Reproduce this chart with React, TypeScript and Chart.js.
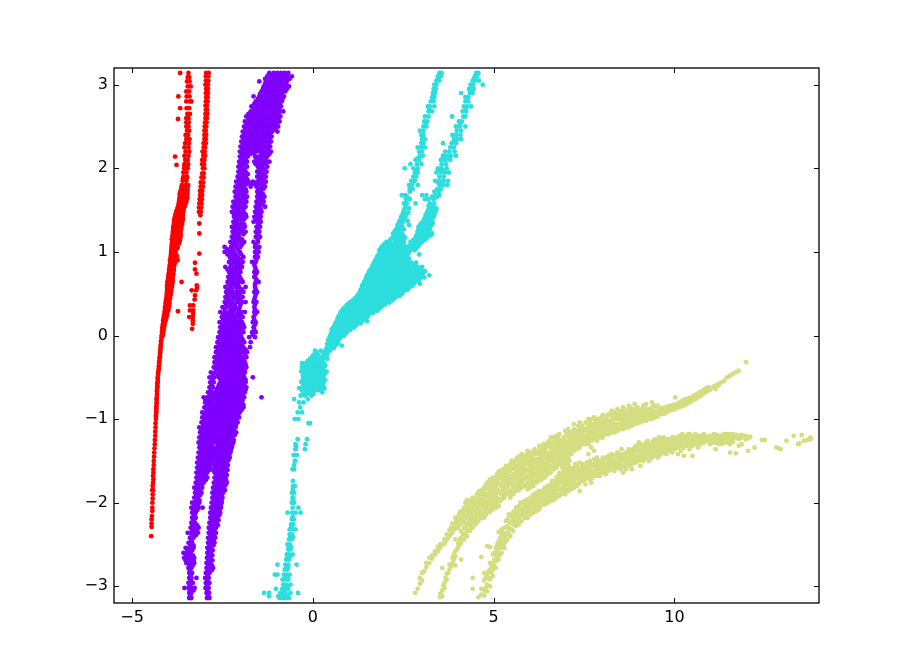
import React, { useEffect, useRef } from "react";
import { Chart, registerables } from "chart.js";

Chart.register(...registerables);

const xTickValues = [-5, 0, 5, 10];
const yTickValues = [-3, -2, -1, 0, 1, 2, 3];

// Rows: [y, x, x, ...]
const redRows = [
[-2.4,-4.47],[-2.29,-4.46],[-2.25,-4.46],[-2.2,-4.46],[-2.16,-4.45],[-2.1,-4.44],[-2.06,-4.44],[-2.0,-4.44],[-1.95,-4.43],[-1.9,-4.43],[-1.85,-4.44,-4.42],[-1.8,-4.43],[-1.76,-4.42],[-1.72,-4.41],[-1.68,-4.42],[-1.64,-4.41],[-1.6,-4.41],[-1.55,-4.4],[-1.5,-4.4],[-1.45,-4.39],[-1.4,-4.39],[-1.35,-4.38],
[-1.3,-4.37],[-1.25,-4.37],[-1.2,-4.36],[-1.15,-4.36],[-1.1,-4.35],[-1.05,-4.35],[-1.0,-4.34],[-0.97,-4.34],[-0.95,-4.34],[-0.92,-4.33],[-0.9,-4.33],[-0.87,-4.33],[-0.85,-4.33],[-0.82,-4.32],[-0.8,-4.32],[-0.77,-4.32],[-0.75,-4.32],[-0.72,-4.31],[-0.7,-4.31],[-0.67,-4.31],[-0.65,-4.31],[-0.62,-4.3],[-0.6,-4.3],[-0.57,-4.3],[-0.55,-4.29],[-0.52,-4.29],[-0.5,-4.29],[-0.47,-4.28],[-0.45,-4.28],[-0.42,-4.27],[-0.4,-4.26],[-0.37,-4.26],[-0.35,-4.25],[-0.32,-4.25],[-0.3,-4.24],[-0.27,-4.24],[-0.25,-4.23],[-0.22,-4.23],[-0.2,-4.22],[-0.17,-4.22],[-0.15,-4.21],[-0.12,-4.21],[-0.1,-4.2],[-0.07,-4.2],[-0.05,-4.19],[-0.02,-4.18],[0,-4.18,-4.15],
[0.03,-4.17,-4.14],[0.05,-4.17,-4.14],[0.08,-4.16,-4.12],[0.1,-4.16,-4.12],[0.13,-4.15,-4.1],[0.15,-4.14,-4.1],[0.18,-4.14,-4.07],[0.2,-4.13,-4.06],[0.23,-4.12,-4.04],[0.25,-4.11,-4.03],[0.28,-4.1,-4.02],[0.3,-4.09,-4.0],[0.33,-4.09,-3.99],[0.35,-4.08,-3.98],[0.38,-4.07,-4.0,-3.97],[0.4,-4.07,-3.97],[0.43,-4.06,-3.98,-3.96],[0.45,-4.05,-3.95],[0.48,-4.04,-3.96,-3.94],[0.5,-4.04,-3.93],[0.53,-4.03,-3.94,-3.92],[0.55,-4.03,-3.92],[0.58,-4.03,-3.94,-3.9],[0.6,-4.03,-3.9],[0.63,-4.02,-3.94,-3.88],[0.65,-4.02,-3.88],[0.68,-4.0,-3.94,-3.88],[0.7,-4.0,-3.88],[0.73,-3.99,-3.92,-3.86],[0.75,-3.98,-3.86],[0.78,-3.97,-3.9,-3.85],[0.8,-3.97,-3.85],[0.83,-3.96,-3.88,-3.84],[0.85,-3.95,-3.83],[0.88,-3.94,-3.88,-3.8],[0.9,-3.95,-3.83,-3.74],[0.93,-3.93,-3.86,-3.79],[0.95,-3.93,-3.81,-3.76],[0.98,-3.92,-3.86,-3.8],[1.0,-3.92,-3.8],[1.03,-3.91,-3.85,-3.78],[1.05,-3.91,-3.8,-3.74],[1.08,-3.9,-3.84,-3.76],[1.1,-3.9,-3.8,-3.7],[1.13,-3.89,-3.84,-3.74,-3.68],[1.15,-3.9,-3.78,-3.68],[1.18,-3.88,-3.82,-3.72,-3.66],[1.2,-3.88,-3.78,-3.66],[1.23,-3.87,-3.81,-3.71,-3.66],[1.25,-3.87,-3.76,-3.66],[1.28,-3.86,-3.8,-3.7,-3.64],[1.3,-3.86,-3.74,-3.64],[1.33,-3.84,-3.78,-3.68,-3.62],[1.35,-3.84,-3.73,-3.62],[1.38,-3.83,-3.77,-3.66,-3.6],[1.4,-3.83,-3.72,-3.6],[1.43,-3.8,-3.74,-3.64,-3.6],[1.45,-3.8,-3.7,-3.6],[1.48,-3.78,-3.7,-3.62,-3.58],[1.5,-3.76,-3.66,-3.58],[1.53,-3.74,-3.66,-3.56],[1.55,-3.72,-3.62,-3.54],[1.58,-3.71,-3.64,-3.52],[1.6,-3.7,-3.6,-3.5],[1.63,-3.69,-3.62,-3.49],[1.65,-3.68,-3.58,-3.47],[1.68,-3.68,-3.6,-3.48],[1.7,-3.68,-3.56,-3.47],[1.73,-3.66,-3.58,-3.47],[1.75,-3.64,-3.54,-3.47],[1.78,-3.63,-3.56,-3.46],[1.8,-3.62,-3.52,-3.45],[1.85,-3.6,-3.5],[1.88,-3.59,-3.49],[1.9,-3.58,-3.48],[1.95,-3.58,-3.5],[2.0,-3.56,-3.46],[2.03,-3.55,-3.47],[2.05,-3.55,-3.45],[2.1,-3.53,-3.46],[2.14,-3.81],[2.04,-3.77],[2.15,-3.55,-3.44],[2.2,-3.52,-3.42],[2.25,-3.55,-3.44],[2.3,-3.53,-3.43],[2.35,-3.5,-3.41],[2.4,-3.52,-3.45],[2.45,-3.48,-3.42],[2.5,-3.5,-3.44],[2.55,-3.5,-3.43],[2.6,-3.5,-3.44],[2.59,-3.73],[2.65,-3.47,-3.4],[2.72,-3.67,-3.49,-3.42],[2.8,-3.5,-3.4,-3.36],[2.86,-3.72,-3.49,-3.41],[2.92,-3.5,-3.42],[2.98,-3.46,-3.38],[3.04,-3.48,-3.41],[3.09,-3.46,-3.42],[3.14,-3.67,-3.44],
[1.53,-3.15,-3.09],[1.58,-3.14,-3.08],[1.63,-3.13,-3.07],[1.68,-3.12,-3.06],[1.73,-3.12,-3.06],[1.78,-3.1,-3.04],[1.83,-3.1,-3.03],[1.89,-3.08,-3.02],[1.94,-3.06,-3.02],[2.0,-3.04,-3.0],[2.05,-3.06,-3.01],[2.1,-3.06,-3.0],[2.15,-3.03,-2.98],[2.2,-3.05,-2.99],[2.25,-3.02,-2.98],[2.3,-3.02,-2.96],[2.35,-3.0,-2.96],[2.4,-3.0,-2.95],[2.45,-3.0,-2.96],[2.5,-2.99,-2.95],[2.55,-2.98,-2.94],[2.6,-2.97,-2.93],[2.65,-2.97,-2.92],[2.7,-2.96,-2.92],[2.75,-2.97,-2.93],[2.8,-2.96,-2.91],[2.85,-2.95,-2.91],[2.9,-2.96,-2.9],[2.95,-2.95,-2.9],[3.0,-2.97,-2.9],[3.05,-2.96,-2.89],[3.1,-2.96,-2.89],[3.14,-2.95,-2.88],
[1.48,-3.15,-3.1],[1.44,-3.11],[1.34,-3.14],[1.22,-3.14],[0.98,-3.14],[0.87,-3.26],[0.79,-3.26],[0.74,-3.22],[0.6,-3.21],[0.57,-3.2],[0.54,-3.23,-3.35],[0.48,-3.26],[0.43,-3.27],[0.36,-3.4,-3.31],[0.3,-3.4,-3.31],[0.26,-3.31],[0.22,-3.42,-3.32],[0.18,-3.32],[0.14,-3.32],[0.08,-3.34],[0.64,-3.63],[0.29,-3.73]
];

const purpleRows = [
[-3.14,-3.42,-3.36,-2.93,-2.86],[-3.08,-3.42,-3.36,-2.94,-2.87],[-3.02,-3.55,-3.44,-3.34,-3.27,-2.97,-2.88],[-2.96,-3.44,-3.32,-2.96,-2.86],[-2.9,-3.42,-3.36,-3.22,-2.98,-2.88],[-2.84,-3.42,-3.34,-2.96,-2.86],[-2.78,-3.44,-3.36,-2.94,-2.84,-2.76],[-2.72,-3.5,-3.4,-3.28,-2.94,-2.84],[-2.66,-3.56,-3.46,-3.36,-3.28,-2.93,-2.83],[-2.6,-3.58,-3.48,-3.38,-2.92,-2.82],[-2.54,-3.52,-3.42,-3.3,-2.92,-2.82],[-2.48,-3.44,-3.34,-2.9,-2.8,-2.72],[-2.42,-3.4,-3.3,-2.9,-2.8,-2.7],[-2.36,-3.46,-3.38,-3.26,-3.18,-2.88,-2.78,-2.68],[-2.3,-3.38,-3.28,-3.16,-2.88,-2.78,-2.68],[-2.24,-3.36,-3.26,-2.86,-2.76,-2.66],[-2.18,-3.34,-3.24,-2.84,-2.74,-2.64],[-2.12,-3.34,-3.24,-2.84,-2.74,-2.64,-2.56],[-2.06,-3.36,-3.26,-3.16,-3.05,-2.82,-2.72,-2.62,-2.54],[-2.0,-3.34,-3.22,-3.14,-2.8,-2.7,-2.6,-2.52],[-1.94,-3.28,-3.18,-2.78,-2.68,-2.58,-2.5],[-1.88,-3.26,-3.16,-3.08,-2.78,-2.68,-2.58,-2.48],[-1.82,-3.28,-3.18,-3.06,-2.76,-2.66,-2.56,-2.46],[-1.76,-3.24,-3.14,-3.02,-2.74,-2.64,-2.54,-2.44,-2.38],[-1.7,-3.22,-3.12,-3.0,-2.92,-2.72,-2.62,-2.52,-2.42],[-1.64,-3.22,-3.12,-3.02,-2.92,-2.72,-2.62,-2.52,-2.42],[-1.58,-3.2,-3.1,-3.0,-2.9,-2.84,-2.7,-2.6,-2.5,-2.4],[-1.52,-3.2,-3.1,-3.0,-2.9,-2.82,-2.68,-2.58,-2.48,-2.38],[-1.46,-3.18,-3.08,-2.98,-2.88,-2.78,-2.68,-2.58,-2.48,-2.38,-2.3],[-1.4,-3.16,-3.06,-2.96,-2.86,-2.76,-2.66,-2.56,-2.46,-2.36,-2.28],[-1.34,-3.14,-3.04,-2.94,-2.84,-2.74,-2.62,-2.52,-2.42,-2.32,-2.24],[-1.28,-3.16,-3.06,-2.96,-2.86,-2.76,-2.68,-2.58,-2.48,-2.38,-2.28,-2.2],[-1.22,-3.14,-3.04,-2.94,-2.84,-2.74,-2.64,-2.54,-2.44,-2.34,-2.24],[-1.16,-3.12,-3.02,-2.92,-2.82,-2.72,-2.6,-2.5,-2.4,-2.3,-2.2,-2.12],[-1.1,-3.14,-3.04,-2.94,-2.84,-2.74,-2.64,-2.54,-2.44,-2.34,-2.24,-2.14],[-1.04,-3.08,-2.98,-2.88,-2.78,-2.68,-2.58,-2.48,-2.38,-2.28,-2.18,-2.08],[-0.98,-3.06,-2.96,-2.86,-2.76,-2.66,-2.56,-2.46,-2.36,-2.26,-2.16,-2.04],[-0.92,-3.06,-2.94,-2.84,-2.74,-2.64,-2.54,-2.44,-2.34,-2.24,-2.14,-2.02],[-0.86,-3.0,-2.9,-2.8,-2.7,-2.6,-2.5,-2.4,-2.3,-2.2,-2.1,-2.0,-1.92],[-0.8,-2.98,-2.88,-2.78,-2.66,-2.56,-2.46,-2.36,-2.26,-2.16,-2.06,-1.96],[-0.74,-3.02,-2.92,-2.8,-2.7,-2.6,-2.5,-2.4,-2.3,-2.2,-2.1,-2.0,-1.9,-1.42],[-0.68,-2.9,-2.8,-2.7,-2.58,-2.48,-2.38,-2.28,-2.18,-2.08,-1.98,-1.88],[-0.62,-2.86,-2.76,-2.62,-2.52,-2.42,-2.32,-2.22,-2.12,-2.02,-1.92,-1.84],[-0.56,-2.84,-2.74,-2.56,-2.46,-2.36,-2.26,-2.16,-2.06,-1.96,-1.86],[-0.5,-2.86,-2.72,-2.6,-2.5,-2.4,-2.3,-2.2,-2.1,-2.0,-1.9,-1.66],[-0.44,-2.82,-2.7,-2.56,-2.46,-2.36,-2.26,-2.16,-2.06,-1.96,-1.88],[-0.38,-2.74,-2.64,-2.54,-2.44,-2.34,-2.24,-2.14,-2.04,-1.94,-1.84],[-0.32,-2.72,-2.62,-2.5,-2.4,-2.3,-2.2,-2.1,-2.0,-1.88],[-0.26,-2.72,-2.6,-2.5,-2.38,-2.28,-2.18,-2.08,-1.98,-1.84],[-0.2,-2.68,-2.58,-2.46,-2.36,-2.26,-2.16,-2.06,-1.94,-1.82],[-0.14,-2.68,-2.56,-2.46,-2.34,-2.24,-2.14,-2.02,-1.92,-1.74],[-0.08,-2.64,-2.54,-2.44,-2.32,-2.22,-2.12,-2.02,-1.9,-1.72],[-0.02,-2.62,-2.52,-2.4,-2.3,-2.2,-2.08,-1.98,-1.76,-1.6],
[0.04,-2.58,-2.48,-2.36,-2.26,-2.14,-2.04,-1.92,-1.68,-1.58],[0.1,-2.56,-2.46,-2.34,-2.22,-2.12,-2.0,-1.9,-1.64],[0.16,-2.58,-2.44,-2.32,-2.2,-2.08,-1.96,-1.66,-1.58],[0.22,-2.52,-2.42,-2.3,-2.18,-2.06,-1.94,-1.64],[0.28,-2.56,-2.44,-2.32,-2.22,-2.08,-1.98,-1.88,-1.62,-1.54],[0.34,-2.5,-2.38,-2.26,-2.14,-2.02,-1.62],[0.4,-2.44,-2.34,-2.22,-2.08,-1.96,-1.86,-1.64,-1.56],[0.46,-2.42,-2.32,-2.18,-2.06,-1.94,-1.6],[0.52,-2.4,-2.3,-2.2,-2.1,-2.0,-1.92,-1.62,-1.54],[0.58,-2.42,-2.28,-2.14,-2.04,-1.86,-1.6],[0.64,-2.36,-2.26,-2.16,-2.02,-1.94,-1.58,-1.5],[0.7,-2.34,-2.24,-2.14,-2.02,-1.62],[0.76,-2.32,-2.22,-2.1,-2.0,-1.62,-1.54],[0.82,-2.42,-2.28,-2.18,-2.06,-1.96,-1.6],[0.88,-2.32,-2.18,-2.08,-1.94,-1.68,-1.58],[0.94,-2.3,-2.2,-2.08,-1.92,-1.6,-1.52],[1.0,-2.44,-2.3,-2.18,-2.02,-1.6,-1.5],[1.06,-2.44,-2.26,-2.14,-2.0,-1.6,-1.48],[1.12,-2.28,-2.16,-2.02,-1.9,-1.64,-1.52],[1.18,-2.24,-2.14,-2.04,-1.58,-1.46],[1.24,-2.22,-2.12,-1.98,-1.86,-1.58,-1.48],[1.3,-2.24,-2.12,-2.0,-1.88,-1.56,-1.46],[1.36,-2.2,-2.1,-1.96,-1.64,-1.54,-1.44],[1.42,-2.18,-2.08,-1.96,-1.84,-1.62,-1.52,-1.44],[1.48,-2.24,-2.14,-2.04,-1.92,-1.6,-1.5,-1.42],[1.54,-2.22,-2.12,-2.0,-1.86,-1.58,-1.48,-1.32],[1.6,-2.2,-2.1,-1.98,-1.84,-1.56,-1.46,-1.36],[1.66,-2.14,-2.06,-1.92,-1.82,-1.54,-1.44,-1.34],[1.72,-2.16,-2.04,-1.94,-1.84,-1.54,-1.44],[1.78,-2.14,-2.02,-1.9,-1.72,-1.56,-1.42,-1.32],[1.84,-2.12,-2.02,-1.9,-1.78,-1.66,-1.54,-1.42,-1.3],[1.9,-2.08,-1.98,-1.86,-1.54,-1.42,-1.3],[1.96,-2.06,-1.96,-1.86,-1.54,-1.42,-1.28],[2.02,-2.06,-1.96,-1.82,-1.52,-1.4,-1.26],[2.08,-2.04,-1.94,-1.82,-1.62,-1.52,-1.38,-1.26,-1.2],[2.14,-2.02,-1.92,-1.8,-1.6,-1.5,-1.38,-1.26],[2.2,-2.02,-1.9,-1.8,-1.68,-1.56,-1.46,-1.36,-1.24,-1.16],[2.26,-2.0,-1.9,-1.78,-1.66,-1.54,-1.42,-1.3,-1.18],[2.32,-1.98,-1.88,-1.76,-1.64,-1.52,-1.4,-1.28,-1.16],[2.38,-1.96,-1.86,-1.74,-1.62,-1.5,-1.38,-1.26,-1.14],[2.44,-1.94,-1.84,-1.72,-1.6,-1.48,-1.36,-1.24,-1.12,-0.98],[2.5,-1.9,-1.78,-1.66,-1.54,-1.42,-1.3,-1.18,-1.06,-0.96],[2.56,-1.88,-1.76,-1.64,-1.52,-1.4,-1.28,-1.16,-1.04,-0.92],[2.62,-1.84,-1.72,-1.6,-1.48,-1.36,-1.24,-1.12,-1.0,-0.9],[2.68,-1.72,-1.6,-1.5,-1.38,-1.26,-1.14,-1.02,-0.9,-0.82],[2.74,-1.7,-1.58,-1.46,-1.34,-1.22,-1.1,-1.0,-0.88],[2.8,-1.58,-1.46,-1.34,-1.22,-1.1,-0.98,-0.86],[2.86,-1.64,-1.48,-1.38,-1.26,-1.14,-1.02,-0.9,-0.8],[2.92,-1.42,-1.32,-1.2,-1.08,-0.96,-0.84,-0.76],[2.98,-1.36,-1.26,-1.14,-1.02,-0.9,-0.78,-0.66],[3.04,-1.48,-1.3,-1.18,-1.06,-0.94,-0.84,-0.72],[3.1,-1.26,-1.14,-1.02,-0.92,-0.82,-0.7,-0.58],[3.14,-1.2,-1.08,-0.98,-0.88,-0.78,-0.68]
];

const purpleRowsFill = [
[-3.11,-3.39,-2.9],[-3.05,-3.4,-3.3,-2.92],[-2.99,-3.4,-2.92],[-2.93,-3.38,-2.92],[-2.87,-3.38,-2.91],[-2.81,-3.4,-2.9,-2.8],[-2.75,-3.42,-3.32,-2.89,-2.79],[-2.69,-3.52,-3.42,-3.3,-2.88,-2.78],[-2.63,-3.5,-3.4,-3.32,-2.88,-2.78],[-2.57,-3.46,-3.34,-2.87,-2.77],[-2.51,-3.38,-3.3,-2.85,-2.75],[-2.45,-3.36,-2.85,-2.75],[-2.39,-3.34,-3.24,-2.83,-2.73],[-2.33,-3.32,-3.22,-2.83,-2.73],[-2.27,-3.32,-3.2,-2.81,-2.71,-2.63],[-2.21,-3.3,-2.79,-2.69,-2.61],[-2.15,-3.28,-2.79,-2.69,-2.59],[-2.09,-3.3,-3.2,-2.77,-2.67,-2.59],[-2.03,-3.28,-3.18,-2.75,-2.65,-2.55],[-1.97,-3.24,-3.14,-2.73,-2.63,-2.53],[-1.91,-3.22,-3.12,-2.73,-2.63,-2.53],[-1.85,-3.22,-3.12,-2.71,-2.61,-2.51,-2.43],[-1.79,-3.2,-3.08,-2.7,-2.6,-2.5,-2.42],[-1.73,-3.18,-3.06,-2.96,-2.68,-2.58,-2.48,-2.4],[-1.67,-3.17,-3.06,-2.97,-2.67,-2.57,-2.47,-2.38],[-1.61,-3.16,-3.05,-2.95,-2.86,-2.75,-2.65,-2.55,-2.45,-2.36],[-1.55,-3.15,-3.05,-2.95,-2.87,-2.75,-2.65,-2.55,-2.45,-2.35],[-1.49,-3.13,-3.03,-2.93,-2.83,-2.73,-2.63,-2.53,-2.43,-2.33],[-1.43,-3.11,-3.01,-2.91,-2.81,-2.71,-2.61,-2.51,-2.41,-2.31],[-1.37,-3.09,-2.99,-2.89,-2.79,-2.69,-2.57,-2.47,-2.37,-2.27],[-1.31,-3.11,-3.01,-2.91,-2.81,-2.63,-2.53,-2.43,-2.33,-2.23],[-1.25,-3.09,-2.99,-2.89,-2.79,-2.69,-2.59,-2.49,-2.39,-2.29,-2.19],[-1.19,-3.07,-2.97,-2.87,-2.77,-2.67,-2.55,-2.45,-2.35,-2.25,-2.16],[-1.13,-3.09,-2.99,-2.89,-2.79,-2.69,-2.59,-2.49,-2.39,-2.29,-2.19],[-1.07,-3.03,-2.93,-2.83,-2.73,-2.63,-2.53,-2.43,-2.33,-2.23,-2.13],[-1.01,-3.01,-2.91,-2.81,-2.71,-2.61,-2.51,-2.41,-2.31,-2.21,-2.11],[-0.95,-3.0,-2.89,-2.79,-2.69,-2.59,-2.49,-2.39,-2.29,-2.19,-2.07],[-0.89,-2.95,-2.85,-2.75,-2.65,-2.55,-2.45,-2.35,-2.25,-2.15,-2.05,-1.97],[-0.83,-2.93,-2.83,-2.72,-2.61,-2.51,-2.41,-2.31,-2.21,-2.11,-2.01,-1.92],[-0.77,-2.97,-2.86,-2.75,-2.65,-2.55,-2.45,-2.35,-2.25,-2.15,-2.05,-1.94],[-0.71,-2.85,-2.75,-2.63,-2.53,-2.43,-2.33,-2.23,-2.13,-2.03,-1.93],[-0.65,-2.82,-2.66,-2.55,-2.45,-2.35,-2.25,-2.15,-2.05,-1.95,-1.86],[-0.59,-2.8,-2.6,-2.5,-2.4,-2.3,-2.2,-2.1,-2.0,-1.9],[-0.53,-2.78,-2.55,-2.45,-2.35,-2.25,-2.15,-2.05,-1.95,-1.86],[-0.47,-2.76,-2.62,-2.52,-2.42,-2.32,-2.22,-2.12,-2.02,-1.92],[-0.41,-2.68,-2.58,-2.48,-2.38,-2.28,-2.18,-2.08,-1.98,-1.88],[-0.35,-2.68,-2.56,-2.46,-2.36,-2.26,-2.16,-2.06,-1.96,-1.86],[-0.29,-2.66,-2.55,-2.44,-2.34,-2.24,-2.14,-2.04,-1.92],[-0.23,-2.63,-2.53,-2.42,-2.32,-2.22,-2.12,-2.02,-1.88],[-0.17,-2.62,-2.5,-2.4,-2.3,-2.2,-2.1,-1.98,-1.86],[-0.11,-2.6,-2.48,-2.38,-2.28,-2.18,-2.08,-1.96],[-0.05,-2.58,-2.46,-2.36,-2.25,-2.15,-2.04,-1.94],
[0.01,-2.54,-2.44,-2.32,-2.22,-2.1,-2.0,-1.66],[0.07,-2.52,-2.4,-2.3,-2.18,-2.08,-1.96,-1.62],[0.13,-2.5,-2.38,-2.26,-2.16,-2.04,-1.93,-1.6],[0.19,-2.48,-2.36,-2.26,-2.14,-2.02,-1.62],[0.25,-2.48,-2.36,-2.24,-2.12,-2.0,-1.6],[0.31,-2.44,-2.28,-2.18,-2.05,-1.6],[0.37,-2.4,-2.28,-2.16,-2.0,-1.6],[0.43,-2.38,-2.26,-2.12,-2.02,-1.62],[0.49,-2.36,-2.25,-2.14,-2.02,-1.58],[0.55,-2.35,-2.24,-2.08,-1.96,-1.58],[0.61,-2.32,-2.2,-2.08,-1.6],[0.67,-2.3,-2.2,-2.08,-1.98,-1.56],[0.73,-2.28,-2.18,-2.06,-1.58],[0.79,-2.36,-2.24,-2.14,-2.02,-1.58],[0.85,-2.26,-2.12,-2.0,-1.62],[0.91,-2.25,-2.14,-2.0,-1.56],[0.97,-2.36,-2.24,-2.12,-1.98,-1.56],[1.03,-2.36,-2.22,-2.08,-1.54],[1.09,-2.22,-2.1,-1.96,-1.58],[1.15,-2.2,-2.08,-1.96,-1.52],[1.21,-2.18,-2.06,-1.92,-1.52],[1.27,-2.18,-2.06,-1.94,-1.52],[1.33,-2.16,-2.03,-1.9,-1.5],[1.39,-2.14,-2.02,-1.9,-1.58,-1.48],[1.45,-2.18,-2.08,-1.98,-1.86,-1.55,-1.46],[1.51,-2.16,-2.06,-1.92,-1.54,-1.44],[1.57,-2.15,-2.04,-1.9,-1.52,-1.4],[1.63,-2.1,-2.0,-1.88,-1.5,-1.4],[1.69,-2.1,-1.98,-1.88,-1.5,-1.38],[1.75,-2.08,-1.97,-1.86,-1.5,-1.38],[1.81,-2.06,-1.96,-1.84,-1.72,-1.6,-1.48,-1.36],[1.87,-2.04,-1.92,-1.82,-1.48,-1.36],[1.93,-2.02,-1.92,-1.8,-1.48,-1.36],[1.99,-2.0,-1.9,-1.48,-1.34],[2.05,-2.0,-1.88,-1.58,-1.46,-1.32],[2.11,-1.98,-1.86,-1.56,-1.44,-1.32],[2.17,-1.96,-1.86,-1.74,-1.62,-1.42,-1.3,-1.2],[2.23,-1.95,-1.84,-1.72,-1.6,-1.48,-1.36,-1.24],[2.29,-1.94,-1.82,-1.7,-1.58,-1.46,-1.34,-1.22],[2.35,-1.92,-1.8,-1.68,-1.56,-1.44,-1.32,-1.2],[2.41,-1.9,-1.78,-1.66,-1.54,-1.42,-1.3,-1.18],[2.47,-1.87,-1.75,-1.63,-1.51,-1.39,-1.27,-1.15,-1.03],[2.53,-1.82,-1.7,-1.58,-1.46,-1.34,-1.22,-1.1,-1.0],[2.59,-1.78,-1.66,-1.54,-1.42,-1.3,-1.18,-1.06,-0.96],[2.65,-1.78,-1.66,-1.54,-1.44,-1.32,-1.2,-1.08,-0.96],[2.71,-1.64,-1.52,-1.4,-1.28,-1.16,-1.05,-0.94],[2.77,-1.62,-1.52,-1.4,-1.28,-1.16,-1.04,-0.92],[2.83,-1.52,-1.42,-1.3,-1.18,-1.06,-0.94,-0.84],[2.89,-1.46,-1.32,-1.22,-1.1,-0.98,-0.86],[2.95,-1.38,-1.28,-1.16,-1.04,-0.92,-0.8,-0.72],[3.01,-1.32,-1.2,-1.1,-0.98,-0.86,-0.74],[3.07,-1.32,-1.2,-1.08,-0.98,-0.88,-0.76,-0.64],[3.12,-1.22,-1.1,-0.96,-0.86,-0.74]
];

const cyanRows = [
[-3.14,-0.92,-0.86,-0.8,-0.74,-0.66],[-3.12,-1.21,-0.96],[-3.08,-1.35,-1.21,-0.9,-0.84,-0.76,-0.62,-0.41],[-3.03,-1.02,-0.85,-0.76,-0.68],[-2.98,-0.82,-0.74,-0.62],[-2.92,-0.84,-0.76,-0.68],[-2.86,-1.05,-0.98,-0.8,-0.72,-0.64],[-2.8,-0.78,-0.7],[-2.74,-0.98,-0.76,-0.68,-0.45],[-2.68,-0.74,-0.66],[-2.62,-0.72,-0.66,-0.56],[-2.56,-0.68,-0.62],[-2.5,-0.7,-0.64],[-2.44,-0.66,-0.58],[-2.38,-0.64,-0.58],[-2.32,-0.64,-0.56,-0.48],[-2.26,-0.6,-0.54],[-2.2,-0.58,-0.52],[-2.12,-0.7,-0.57,-0.48,-0.34],[-2.06,-0.56,-0.4],[-2.0,-0.58,-0.52],[-1.94,-0.56,-0.54],[-1.88,-0.58,-0.52],[-1.8,-0.55,-0.5],[-1.74,-0.55],[-1.6,-0.56,-0.52],[-1.5,-0.5,-0.48],[-1.43,-0.53,-0.44],[-1.36,-0.48,-0.48,-0.22],[-1.3,-0.48,-0.2],[-1.24,-0.42,-0.16],[-1.0,-0.5,-0.4],[-1.05,-0.12,-0.08],[-0.92,-0.42,-0.3],[-0.86,-0.35],[-0.8,-0.38,-0.26],[-0.76,-0.52,-0.14],
[-0.72,-0.34,-0.22,-0.04],[-0.68,-0.24,-0.14,-0.02,0.26],[-0.63,-0.38,-0.2,-0.1,0,0.1,0.2,0.32],[-0.58,-0.22,-0.12,-0.02,0.08,0.18,0.28],[-0.53,-0.28,-0.16,-0.06,0.04,0.14,0.24,0.34],[-0.48,-0.28,-0.18,-0.08,0.02,0.12,0.22,0.3],[-0.43,-0.32,-0.2,-0.1,0,0.1,0.2,0.3,0.38],[-0.38,-0.3,-0.18,-0.08,0.02,0.12,0.22,0.3],[-0.33,-0.3,-0.2,-0.1,0,0.1,0.2,0.3],[-0.28,-0.08,0.06,0.18,0.28,0.4],[-0.23,0.02,0.14,0.3,0.4],[-0.18,0.06,0.22,0.36,0.48],[-0.12,0.42,0.52,0.62,0.8],[-0.08,0.44,0.54,0.64,0.7],[-0.03,0.46,0.56,0.66,0.76],[0.02,0.5,0.6,0.7,0.8,0.9],[0.07,0.52,0.64,0.74,0.84,0.94,1.04,0.95],[0.12,0.6,0.7,0.8,0.9,1.0,1.1,1.2],[0.17,0.66,0.76,0.86,0.96,1.06,1.16,1.26,1.36,1.5],[0.22,0.7,0.8,0.9,1.0,1.1,1.2,1.3,1.4,1.5],[0.27,0.76,0.86,0.96,1.06,1.16,1.26,1.36,1.46,1.56,1.66],[0.32,0.84,0.94,1.04,1.14,1.24,1.34,1.44,1.54,1.64,1.74,1.84],[0.37,0.95,1.05,1.15,1.25,1.35,1.45,1.55,1.65,1.75,1.85,1.95,2.0],[0.42,1.1,1.2,1.3,1.4,1.5,1.6,1.7,1.8,1.9,2.0,2.1,2.2],[0.47,1.22,1.32,1.42,1.52,1.62,1.72,1.82,1.92,2.02,2.12,2.22,2.32,2.4],[0.52,1.3,1.42,1.52,1.62,1.72,1.82,1.92,2.02,2.12,2.22,2.32,2.42,2.5],[0.57,1.36,1.46,1.56,1.66,1.76,1.86,1.96,2.06,2.16,2.26,2.36,2.46,2.56,2.66],[0.62,1.4,1.5,1.6,1.7,1.8,1.9,2.0,2.1,2.2,2.3,2.4,2.5,2.6,2.7,2.8,2.96],[0.67,1.46,1.56,1.66,1.76,1.86,1.96,2.06,2.16,2.26,2.36,2.46,2.56,2.66,2.76,2.86,2.95],[0.72,1.5,1.62,1.72,1.82,1.92,2.02,2.12,2.22,2.32,2.42,2.52,2.62,2.72,2.82,2.92,3.02,3.22],[0.77,1.56,1.66,1.76,1.86,1.96,2.06,2.16,2.26,2.36,2.46,2.56,2.66,2.8,2.9,3.0,3.1],[0.82,1.64,1.74,1.84,1.94,2.04,2.14,2.24,2.34,2.44,2.54,2.64,2.78,2.9,3.02],[0.87,1.7,1.8,1.9,2.0,2.1,2.2,2.3,2.4,2.5,2.6,2.72,2.85],[0.92,1.76,1.86,1.96,2.06,2.16,2.26,2.36,2.46,2.56,2.66],[0.97,1.82,1.92,2.02,2.12,2.22,2.32,2.42,2.52,2.62,2.94],[1.02,1.84,1.96,2.06,2.16,2.26,2.36,2.46,2.56,2.7,2.82],[1.07,1.92,2.02,2.12,2.22,2.32,2.42,2.54,2.66,2.8,2.92],[1.12,2.04,2.14,2.3,2.4,2.52,2.7,2.82,2.92,3.02],[1.17,2.2,2.3,2.42,2.55,2.84,2.94,3.04,3.16],[1.22,2.22,2.34,2.46,2.9,3.0,3.1,3.2,3.3],[1.27,2.3,2.42,2.52,2.94,3.04,3.14,3.24],[1.32,2.34,2.44,2.66,2.96,3.06,3.16,3.28],[1.37,2.4,2.5,2.62,3.06,3.16,3.28],[1.42,2.44,2.56,3.12,3.22,3.34],[1.47,2.5,2.64,3.16,3.28,3.38],[1.52,2.54,2.66,3.22,3.32,3.42],[1.58,2.52,2.6,2.84,3.24,3.36],[1.63,2.58,2.68,3.1,3.2,3.34],[1.68,2.46,2.56,3.02,3.14,3.4,3.5],[1.75,2.68,2.76,3.44,3.54],[1.8,2.66,2.74,2.9,3.5,3.6,3.72],[1.85,2.72,2.82,3.38,3.5,3.62,3.74],[1.9,2.78,2.86,3.5,3.62],[1.95,2.82,2.9,3.42,3.54,3.66,3.76],[2.0,2.54,2.78,2.9,3.46,3.56,3.7],[2.05,2.7,2.88,3.0,3.56,3.68],[2.1,2.84,2.94,3.54,3.66,3.8],[2.15,2.96,3.04,3.6,3.72,3.82,3.96],[2.2,2.94,3.02,3.66,3.78,3.92],[2.25,2.9,3.0,3.1,3.8,3.9],[2.3,3.0,3.06,3.6,3.84,3.96],[2.35,3.02,3.1,3.9,4.0,4.1],[2.4,3.0,3.06,3.86,3.96,4.08],[2.45,2.96,3.06,3.98,4.1],[2.5,3.06,3.14,3.96,4.06,4.22],[2.56,3.08,3.16,4.04,4.12],[2.62,3.1,3.2,4.16,4.22,3.85],[2.68,3.2,3.3,4.14,4.24],[2.74,3.18,3.24,3.36,4.18,4.28,4.38],[2.8,3.26,3.34,4.22,4.3],[2.85,3.3,3.36,4.22,4.3],[2.9,3.32,3.38,4.34,4.42,4.1],[2.95,3.34,3.4,4.32,4.4,4.45],[3.0,3.36,3.42,4.36,4.44,4.7],[3.05,3.42,3.5,4.42,4.5,4.6],[3.1,3.46,3.54,4.48,4.54],[3.14,3.5,3.56,4.52,4.58]
];

const cyanRowsFill = [
[-3.11,-0.88,-0.8,-0.7],[-3.0,-0.78,-0.7],[-2.89,-0.78,-0.7],[-2.77,-0.74,-0.68],[-2.65,-0.7,-0.64],[-2.53,-0.66,-0.6],[-2.41,-0.62,-0.55],[-2.29,-0.6],[-2.17,-0.56],[-1.97,-0.55],[-1.84,-0.55],[-1.55,-0.52],[-1.33,-0.46],
[-0.7,-0.28,-0.18,-0.08,0.02],[-0.655,-0.3,-0.16,-0.05,0.05,0.15,0.26],[-0.605,-0.28,-0.16,-0.06,0.04,0.14,0.24],[-0.555,-0.32,-0.2,-0.08,0.02,0.12,0.22,0.3],[-0.505,-0.22,-0.12,-0.02,0.08,0.18,0.28],[-0.455,-0.24,-0.14,-0.04,0.06,0.16,0.26,0.34],[-0.405,-0.26,-0.14,-0.04,0.06,0.16,0.26],[-0.355,-0.24,-0.14,-0.04,0.06,0.16,0.26,0.34],[-0.305,-0.14,-0.02,0.12,0.24],[-0.255,-0.02,0.1,0.24,0.36],[-0.2,0.1,0.28,0.4],[-0.15,0.38,0.48,0.58],[-0.1,0.4,0.5,0.6,0.68],[-0.055,0.42,0.5,0.6,0.7],[-0.005,0.48,0.56,0.66,0.76,0.86],[0.045,0.54,0.66,0.76,0.86,0.96],[0.095,0.56,0.65,0.75,0.85,0.95,1.05,1.14],[0.145,0.62,0.72,0.82,0.92,1.02,1.12,1.22,1.32],[0.195,0.68,0.78,0.88,0.98,1.08,1.18,1.28,1.38,1.46],[0.245,0.74,0.84,0.94,1.04,1.14,1.24,1.34,1.44,1.54],[0.295,0.8,0.9,1.0,1.1,1.2,1.3,1.4,1.5,1.6,1.7,1.78],[0.345,0.9,1.0,1.1,1.2,1.3,1.4,1.5,1.6,1.7,1.8,1.9],[0.395,1.02,1.12,1.22,1.32,1.42,1.52,1.62,1.72,1.82,1.92,2.02,2.12],[0.445,1.16,1.26,1.36,1.46,1.56,1.66,1.76,1.86,1.96,2.06,2.16,2.26],[0.495,1.26,1.36,1.46,1.56,1.66,1.76,1.86,1.96,2.06,2.16,2.26,2.36,2.46],[0.545,1.32,1.42,1.52,1.62,1.72,1.82,1.92,2.02,2.12,2.22,2.32,2.42,2.52,2.62],[0.595,1.36,1.46,1.56,1.66,1.76,1.86,1.96,2.06,2.16,2.26,2.36,2.46,2.56,2.66,2.76],[0.645,1.42,1.52,1.62,1.72,1.82,1.92,2.02,2.12,2.22,2.32,2.42,2.52,2.62,2.72,2.82,2.92],[0.695,1.48,1.58,1.68,1.78,1.88,1.98,2.08,2.18,2.28,2.38,2.48,2.58,2.68,2.78,2.88,2.98,3.08],[0.745,1.54,1.64,1.74,1.84,1.94,2.04,2.14,2.24,2.34,2.44,2.54,2.64,2.74,2.84,2.94,3.04],[0.795,1.6,1.7,1.8,1.9,2.0,2.1,2.2,2.3,2.4,2.5,2.6,2.72,2.84,2.96],[0.845,1.66,1.76,1.86,1.96,2.06,2.16,2.26,2.36,2.46,2.56,2.66,2.8],[0.895,1.72,1.82,1.92,2.02,2.12,2.22,2.32,2.42,2.52,2.62],[0.945,1.78,1.88,1.98,2.08,2.18,2.28,2.38,2.48,2.58],[0.995,1.88,1.98,2.08,2.18,2.28,2.38,2.48,2.58,2.66],[1.045,1.88,2.0,2.1,2.2,2.3,2.4,2.5,2.62,2.76,2.86],[1.095,1.98,2.08,2.2,2.34,2.46,2.74,2.86,2.96],[1.145,2.14,2.26,2.36,2.48,2.78,2.88,2.98,3.1],[1.195,2.26,2.38,2.5,2.86,2.96,3.06,3.16,3.26],[1.245,2.26,2.38,2.9,3.0,3.1,3.2],[1.295,2.36,2.48,2.92,3.02,3.12,3.22],[1.345,2.38,2.46,3.0,3.1,3.22,3.32],[1.395,2.44,2.54,3.08,3.18,3.3],[1.445,2.48,2.58,3.12,3.24,3.36],[1.495,2.52,3.18,3.3,3.4],[1.55,2.56,3.2,3.32],[1.66,2.6,3.3,3.44],[1.72,2.68,3.36,3.48],[1.83,2.76,3.46,3.58],[1.97,2.86,3.48,3.6],[2.12,2.9,3.6,3.72],[2.32,3.04,3.92],[2.53,3.12,4.08],[2.71,3.22,4.22],[2.92,3.36,4.36],[3.07,3.46,4.46]
];

// Columns: [x, y, y, ...]
const oliveColumns = [
[2.83,-3.08],[2.9,-3.03],[2.96,-2.97,-2.9],[3.02,-2.93,-2.84],[3.08,-2.82],[3.14,-2.77,-2.72],[3.22,-2.72,-2.66],[3.3,-2.67,-2.63],[3.38,-2.62,-2.58],[3.46,-2.58,-2.53],
[3.52,-3.13,-3.09,-2.54,-2.5],[3.58,-3.12,-3.05,-2.5,-2.78],[3.64,-3.02,-2.96,-2.49,-2.44],[3.7,-2.92,-2.85,-2.44,-2.38],[3.78,-2.8,-2.74,-2.4,-2.33],[3.86,-2.72,-2.66,-2.36,-2.3,-2.25],[3.94,-2.64,-2.58,-2.44,-2.31,-2.24,-2.18,-2.75],[4.02,-2.54,-2.49,-2.3,-2.22,-2.16],[4.1,-2.48,-2.42,-2.34,-2.25,-2.18,-2.1,-2.68],[4.18,-2.44,-2.38,-2.3,-2.22,-2.14,-2.06],[4.26,-2.4,-2.34,-2.26,-2.18,-2.1,-2.02,-1.97],[4.34,-2.34,-2.27,-2.18,-2.12,-2.05,-1.99],[4.42,-2.3,-2.24,-2.16,-2.09,-2.0,-1.94,-2.9,-3.03],[4.5,-2.26,-2.2,-2.12,-2.04,-1.98],[4.58,-2.22,-2.15,-2.08,-2.0,-1.92,-1.87,-3.13],[4.66,-3.1,-3.03,-2.65,-2.18,-2.12,-2.03,-1.96,-1.88],[4.74,-3.11,-3.05,-2.93,-2.84,-2.18,-2.12,-2.02,-1.96,-1.88,-1.82],[4.82,-3.06,-2.98,-2.86,-2.52,-2.12,-2.05,-1.98,-1.9,-1.82,-1.76],[4.9,-3.0,-2.92,-2.8,-2.72,-2.53,-2.11,-2.02,-1.94,-1.86,-1.78,-1.72],[4.98,-2.88,-2.8,-2.72,-2.62,-2.08,-2.02,-1.92,-1.84,-1.76,-1.7],[5.06,-2.78,-2.7,-2.62,-2.54,-2.06,-1.98,-1.9,-1.8,-1.72],[5.14,-2.68,-2.62,-2.54,-2.46,-2.35,-2.04,-1.96,-1.86,-1.78,-1.68,-1.63],[5.22,-2.6,-2.54,-2.46,-2.38,-2.32,-1.96,-1.9,-1.8,-1.72,-1.64],[5.3,-2.54,-2.48,-2.4,-2.3,-1.94,-1.86,-1.76,-1.68,-1.62],[5.38,-2.44,-2.36,-2.28,-2.2,-1.9,-1.82,-1.74,-1.66,-1.6],[5.46,-2.4,-2.32,-2.24,-2.16,-1.94,-1.86,-1.76,-1.7,-1.62,-1.54],[5.54,-2.34,-2.26,-2.2,-2.12,-1.9,-1.82,-1.72,-1.66,-1.58,-1.52],[5.62,-2.28,-2.22,-2.14,-2.06,-1.86,-1.78,-1.7,-1.62,-1.55,-1.48],[5.7,-2.26,-2.18,-2.1,-2.04,-1.85,-1.76,-1.68,-1.6,-1.5],[5.78,-2.22,-2.14,-2.08,-2.0,-1.82,-1.74,-1.66,-1.58,-1.48,-1.42],[5.86,-2.18,-2.12,-2.04,-1.98,-1.8,-1.72,-1.64,-1.55,-1.46],[5.94,-2.18,-2.1,-2.02,-1.96,-1.84,-1.76,-1.68,-1.6,-1.52,-1.42,-1.38],[6.02,-2.14,-2.08,-2.0,-1.94,-1.82,-1.74,-1.66,-1.58,-1.5,-1.44],[6.1,-2.12,-2.04,-1.98,-1.9,-1.8,-1.72,-1.64,-1.56,-1.47,-1.38],[6.18,-2.1,-2.02,-1.96,-1.88,-1.76,-1.68,-1.6,-1.52,-1.4],[6.26,-2.08,-2.0,-1.94,-1.86,-1.74,-1.66,-1.58,-1.5,-1.42,-1.32],[6.34,-2.02,-1.96,-1.9,-1.72,-1.64,-1.56,-1.48,-1.4,-1.34],[6.42,-2.02,-1.95,-1.88,-1.82,-1.7,-1.62,-1.54,-1.46,-1.38,-1.3],[6.5,-2.0,-1.94,-1.86,-1.8,-1.66,-1.6,-1.52,-1.44,-1.28],[6.58,-1.98,-1.92,-1.84,-1.78,-1.64,-1.56,-1.5,-1.42,-1.34,-1.28,-1.22],[6.66,-1.97,-1.9,-1.82,-1.74,-1.6,-1.52,-1.46,-1.38,-1.3,-1.22],[6.74,-1.94,-1.86,-1.78,-1.7,-1.58,-1.5,-1.42,-1.34,-1.26,-1.2],[6.82,-1.92,-1.84,-1.76,-1.7,-1.64,-1.54,-1.48,-1.4,-1.32,-1.25,-1.18],[6.9,-1.88,-1.82,-1.74,-1.68,-1.58,-1.52,-1.44,-1.36,-1.29],[6.98,-1.9,-1.82,-1.74,-1.66,-1.58,-1.5,-1.42,-1.34,-1.26,-1.14],[7.06,-1.86,-1.78,-1.7,-1.62,-1.54,-1.46,-1.38,-1.3,-1.2,-1.12],[7.14,-1.84,-1.76,-1.68,-1.6,-1.42,-1.34,-1.26,-1.18],[7.22,-1.82,-1.74,-1.66,-1.58,-1.38,-1.3,-1.24,-1.12,-1.06],[7.3,-1.8,-1.72,-1.64,-1.56,-1.36,-1.28,-1.2,-1.14],[7.38,-1.86,-1.76,-1.7,-1.62,-1.52,-1.34,-1.26,-1.18,-1.1,-1.04],[7.46,-1.74,-1.68,-1.6,-1.54,-1.3,-1.24,-1.16,-1.08],[7.54,-1.78,-1.72,-1.66,-1.58,-1.3,-1.22,-1.14,-1.04],[7.62,-1.7,-1.64,-1.56,-1.42,-1.3,-1.22,-1.16,-1.08,-1.0],[7.7,-1.76,-1.68,-1.62,-1.54,-1.34,-1.26,-1.2,-1.14,-1.06,-1.0],[7.78,-1.68,-1.62,-1.54,-1.48,-1.38,-1.24,-1.18,-1.12,-1.06,-0.98],[7.86,-1.68,-1.6,-1.54,-1.46,-1.26,-1.2,-1.14,-1.08,-1.0],[7.94,-1.68,-1.62,-1.56,-1.5,-1.22,-1.16,-1.1,-1.04],[8.02,-1.64,-1.58,-1.52,-1.46,-1.22,-1.16,-1.1,-1.0,-0.95],[8.1,-1.66,-1.6,-1.54,-1.46,-1.18,-1.12,-1.06,-1.0],[8.18,-1.62,-1.56,-1.5,-1.44,-1.18,-1.12,-1.04,-0.94],[8.26,-1.6,-1.54,-1.48,-1.42,-1.16,-1.1,-1.04,-0.96,-0.9],[8.34,-1.62,-1.56,-1.5,-1.44,-1.16,-1.1,-1.06,-1.0,-0.92],[8.42,-1.58,-1.52,-1.46,-1.4,-1.14,-1.08,-1.0,-0.94,-0.88],[8.5,-1.6,-1.54,-1.48,-1.42,-1.12,-1.06,-1.0,-0.92],[8.58,-1.64,-1.56,-1.5,-1.44,-1.12,-1.06,-1.0,-0.9,-0.86],[8.66,-1.6,-1.52,-1.46,-1.4,-1.1,-1.04,-0.98,-0.92],[8.74,-1.56,-1.5,-1.44,-1.36,-1.1,-1.04,-0.96,-0.88,-0.84],[8.82,-1.6,-1.54,-1.46,-1.38,-1.08,-1.02,-0.96,-0.9],[8.9,-1.52,-1.46,-1.4,-1.34,-1.06,-1.0,-0.94,-0.88,-0.82],[8.98,-1.5,-1.44,-1.38,-1.32,-1.05,-1.0,-0.94,-0.86],[9.06,-1.56,-1.48,-1.42,-1.36,-1.3,-1.04,-0.98,-0.92],[9.14,-1.5,-1.44,-1.38,-1.32,-1.02,-0.97,-0.9,-0.84],[9.22,-1.46,-1.4,-1.34,-1.28,-1.02,-0.96,-0.88,-0.82],[9.3,-1.5,-1.44,-1.38,-1.32,-1.0,-0.94,-0.88],[9.38,-1.46,-1.4,-1.34,-1.28,-1.0,-0.94,-0.86,-0.8],[9.46,-1.42,-1.36,-1.3,-1.24,-0.98,-0.92,-0.84],[9.54,-1.46,-1.38,-1.32,-1.26,-0.97,-0.91,-0.84],[9.62,-1.42,-1.36,-1.3,-1.24,-0.94,-0.88],[9.7,-1.4,-1.34,-1.28,-1.22,-0.94,-0.88],[9.78,-1.42,-1.36,-1.3,-1.24,-0.92,-0.87],[9.86,-1.38,-1.32,-1.26,-0.9,-0.85],[9.94,-1.4,-1.34,-1.28,-1.22,-0.89,-0.84],[10.02,-1.36,-1.3,-1.24,-0.88,-0.84,-0.74],[10.1,-1.42,-1.34,-1.28,-1.22,-0.86,-0.82],[10.18,-1.38,-1.32,-1.26,-0.85,-0.8],[10.26,-1.44,-1.34,-1.26,-1.2,-0.84,-0.79],[10.34,-1.32,-1.26,-1.2,-0.82,-0.77],[10.42,-1.36,-1.3,-1.24,-1.18,-0.8,-0.76],[10.5,-1.44,-1.32,-1.26,-1.2,-0.78,-0.74],[10.58,-1.3,-1.24,-1.18,-0.76,-0.72],[10.66,-1.34,-1.28,-1.22,-0.74,-0.71],[10.74,-1.3,-1.24,-1.2,-0.72,-0.68],[10.82,-1.28,-1.22,-1.18,-0.69,-0.65],[10.9,-1.26,-1.22,-0.67,-0.63],[10.98,-1.3,-1.24,-1.2,-0.65],[11.06,-1.28,-1.24,-1.2,-0.62],[11.14,-1.36,-1.28,-1.22,-0.6,-0.64],[11.22,-1.3,-1.24,-1.2,-0.58,-0.6],[11.3,-1.3,-1.24,-1.2,-0.56],[11.38,-1.28,-1.22,-1.18,-0.54],[11.46,-1.28,-1.22,-1.18,-0.5],[11.54,-1.4,-1.3,-1.22,-1.18,-0.48],[11.62,-1.27,-1.22,-1.18,-0.46],[11.7,-1.41,-1.22,-1.19,-0.44],[11.78,-1.32,-1.24,-1.2,-0.42],[11.86,-1.3,-1.22,-1.19],[11.98,-1.24,-1.2,-0.32],[12.04,-1.38,-1.23],[12.1,-1.21],[12.22,-1.34],[12.42,-1.25],[12.5,-1.25],[12.82,-1.34],[12.88,-1.35],[12.94,-1.36],[13.1,-1.26],[13.3,-1.2],[13.42,-1.3],[13.46,-1.29],[13.52,-1.19],[13.58,-1.26],[13.68,-1.25],[13.78,-1.23],[13.76,-1.22],[13.76,-1.24]
];

const oliveColumnsFill = [
[3.55,-3.1],[3.61,-2.99],[3.67,-2.9,-2.46],[3.74,-2.84,-2.42],[3.82,-2.76,-2.37,-2.3],[3.9,-2.68,-2.62,-2.32,-2.26],[3.98,-2.56,-2.26,-2.2],[4.06,-2.5,-2.44,-2.26,-2.19,-2.12],[4.14,-2.44,-2.37,-2.2,-2.12],[4.22,-2.37,-2.3,-2.24,-2.16,-2.08,-2.0],[4.3,-2.33,-2.24,-2.15,-2.08,-2.02],[4.38,-2.29,-2.21,-2.14,-2.06,-1.97],[4.46,-2.26,-2.18,-2.1,-2.02,-1.95],[4.54,-2.23,-2.16,-2.06,-1.97,-1.9],[4.62,-2.17,-2.1,-2.02,-1.94,-1.86],[4.7,-2.14,-2.06,-1.98,-1.9,-1.84],[4.78,-3.02,-2.9,-2.15,-2.08,-2.0,-1.92,-1.84,-1.79],[4.86,-2.9,-2.82,-2.08,-2.0,-1.92,-1.84,-1.76],[4.94,-2.84,-2.76,-2.06,-1.98,-1.9,-1.8,-1.74],[5.02,-2.76,-2.68,-2.6,-2.04,-1.96,-1.86,-1.78,-1.7],[5.1,-2.66,-2.58,-2.5,-2.02,-1.94,-1.84,-1.74,-1.66],[5.18,-2.62,-2.5,-2.42,-1.98,-1.88,-1.78,-1.7,-1.62],[5.26,-2.52,-2.44,-2.36,-1.92,-1.84,-1.74,-1.66,-1.6],[5.34,-2.46,-2.38,-2.3,-2.22,-1.88,-1.8,-1.7,-1.62,-1.56],[5.42,-2.38,-2.3,-2.22,-2.14,-1.88,-1.78,-1.68,-1.58],[5.5,-2.32,-2.24,-2.16,-1.88,-1.78,-1.68,-1.6,-1.5],[5.58,-2.26,-2.18,-2.1,-1.86,-1.76,-1.66,-1.58,-1.5],[5.66,-2.22,-2.14,-2.06,-1.82,-1.72,-1.64,-1.56,-1.46],[5.74,-2.16,-2.08,-2.0,-1.8,-1.7,-1.62,-1.54,-1.44],[5.82,-2.16,-2.1,-2.02,-1.78,-1.7,-1.6,-1.52,-1.44],[5.9,-2.14,-2.06,-2.0,-1.8,-1.7,-1.62,-1.5,-1.44],[5.98,-2.12,-2.04,-1.96,-1.78,-1.7,-1.62,-1.54,-1.46,-1.4],[6.06,-2.1,-2.02,-1.94,-1.76,-1.68,-1.6,-1.52,-1.42],[6.14,-2.06,-1.99,-1.92,-1.74,-1.66,-1.58,-1.5,-1.42,-1.36],[6.22,-2.04,-1.97,-1.9,-1.72,-1.64,-1.56,-1.48,-1.38],[6.3,-2.04,-1.96,-1.88,-1.7,-1.62,-1.54,-1.46,-1.36],[6.38,-1.98,-1.92,-1.85,-1.68,-1.6,-1.52,-1.44,-1.36,-1.3],[6.46,-1.98,-1.9,-1.84,-1.64,-1.58,-1.5,-1.42,-1.34],[6.54,-1.96,-1.88,-1.82,-1.62,-1.56,-1.48,-1.4,-1.32,-1.26],[6.62,-1.94,-1.86,-1.8,-1.74,-1.58,-1.5,-1.44,-1.36,-1.28],[6.7,-1.92,-1.86,-1.78,-1.56,-1.48,-1.4,-1.32,-1.24],[6.78,-1.9,-1.82,-1.74,-1.68,-1.54,-1.46,-1.38,-1.3,-1.22],[6.86,-1.9,-1.82,-1.74,-1.66,-1.5,-1.42,-1.34,-1.26],[6.94,-1.86,-1.78,-1.7,-1.62,-1.54,-1.46,-1.38,-1.3,-1.22],[7.02,-1.84,-1.76,-1.68,-1.6,-1.5,-1.42,-1.34,-1.26,-1.18],[7.1,-1.82,-1.74,-1.66,-1.58,-1.5,-1.4,-1.32,-1.24,-1.16],[7.18,-1.8,-1.72,-1.64,-1.36,-1.28,-1.22,-1.16],[7.26,-1.78,-1.7,-1.62,-1.54,-1.34,-1.26,-1.18],[7.34,-1.78,-1.68,-1.6,-1.32,-1.24,-1.16,-1.08],[7.42,-1.72,-1.66,-1.58,-1.3,-1.22,-1.14],[7.5,-1.72,-1.64,-1.56,-1.28,-1.2,-1.12],[7.58,-1.68,-1.6,-1.52,-1.26,-1.2,-1.12,-1.04],[7.66,-1.72,-1.66,-1.58,-1.5,-1.24,-1.18,-1.1,-1.02],[7.74,-1.7,-1.64,-1.56,-1.22,-1.16,-1.08],[7.82,-1.66,-1.58,-1.5,-1.22,-1.16,-1.1,-1.02],[7.9,-1.64,-1.58,-1.5,-1.2,-1.14,-1.06,-1.0],[7.98,-1.64,-1.58,-1.52,-1.2,-1.12,-1.06,-0.98],[8.06,-1.62,-1.56,-1.48,-1.18,-1.12,-1.04],[8.14,-1.6,-1.54,-1.46,-1.16,-1.1,-1.02,-0.96],[8.22,-1.58,-1.52,-1.46,-1.14,-1.08,-1.02],[8.3,-1.58,-1.52,-1.44,-1.14,-1.08,-1.02,-0.94],[8.38,-1.58,-1.52,-1.44,-1.12,-1.06,-0.98],[8.46,-1.56,-1.5,-1.42,-1.12,-1.06,-0.96,-0.9],[8.54,-1.58,-1.5,-1.44,-1.36,-1.1,-1.04,-0.96],[8.62,-1.56,-1.48,-1.42,-1.08,-1.02,-0.94,-0.88],[8.7,-1.54,-1.48,-1.4,-1.08,-1.02,-0.94],[8.78,-1.52,-1.46,-1.4,-1.06,-1.0,-0.92,-0.86],[8.86,-1.5,-1.44,-1.36,-1.06,-1.0,-0.92],[8.94,-1.52,-1.46,-1.38,-1.32,-1.04,-0.98,-0.9],[9.02,-1.5,-1.44,-1.36,-1.28,-1.02,-0.96,-0.88],[9.1,-1.46,-1.4,-1.34,-1.0,-0.94,-0.88],[9.18,-1.48,-1.42,-1.36,-1.3,-1.0,-0.92],[9.26,-1.44,-1.38,-1.32,-1.26,-0.98,-0.92],[9.34,-1.42,-1.36,-1.3,-0.98,-0.92],[9.42,-1.44,-1.38,-1.32,-1.26,-0.96,-0.9],[9.5,-1.4,-1.34,-1.28,-0.96,-0.9],[9.58,-1.44,-1.36,-1.28,-1.22,-0.94,-0.88],[9.66,-1.38,-1.32,-1.26,-0.92,-0.87],[9.74,-1.38,-1.32,-1.26,-0.91,-0.86],[9.82,-1.36,-1.3,-1.24,-0.9,-0.85],[9.9,-1.36,-1.3,-1.24,-0.88,-0.84],[9.98,-1.34,-1.28,-1.22,-0.87,-0.83],[10.06,-1.34,-1.28,-1.24,-0.86,-0.82],[10.14,-1.32,-1.26,-1.2,-0.84,-0.8],[10.22,-1.3,-1.24,-1.18,-0.82,-0.78],[10.3,-1.32,-1.26,-1.22,-0.81,-0.76],[10.38,-1.28,-1.22,-1.18,-0.8,-0.75],[10.46,-1.3,-1.24,-0.78,-0.74],[10.54,-1.28,-1.22,-0.76,-0.72],[10.62,-1.28,-1.22,-0.74,-0.7],[10.7,-1.26,-1.2,-0.72,-0.68],[10.78,-1.25,-1.2,-0.7,-0.66],[10.86,-1.24,-1.2,-0.68,-0.64],[10.94,-1.26,-1.22,-0.65,-0.62],[11.02,-1.24,-1.2],[11.1,-1.24,-1.18,-0.61],[11.18,-1.22,-1.19],[11.26,-1.26,-1.22],[11.34,-1.24,-1.19],[11.42,-1.22,-1.19],[11.5,-1.24,-1.2],[11.58,-1.26,-1.2]
];

const fromRows = (rows: number[][]) =>
  rows.flatMap(([y, ...xs]) => xs.map((x) => ({ x, y })));
const fromColumns = (cols: number[][]) =>
  cols.flatMap(([x, ...ys]) => ys.map((y) => ({ x, y })));

const series = [
  { color: "#8000ff", data: [...fromRows(purpleRows), ...fromRows(purpleRowsFill)] },
  { color: "#2cdedd", data: [...fromRows(cyanRows), ...fromRows(cyanRowsFill)] },
  { color: "#d4dd80", data: [...fromColumns(oliveColumns), ...fromColumns(oliveColumnsFill)] },
  { color: "#ff0000", data: fromRows(redRows) },
];

const fmt = (v: number | string) => String(v).replace("-", "\u2212");

const framePlugin = {
  id: "frame",
  afterDraw(chart: any) {
    const { ctx, chartArea: a, scales } = chart;
    ctx.save();
    ctx.strokeStyle = "#000";
    ctx.lineWidth = 1;
    ctx.beginPath();
    for (const v of xTickValues) {
      const p = Math.round(scales.x.getPixelForValue(v)) + 0.5;
      ctx.moveTo(p, a.top); ctx.lineTo(p, a.top + 5);
      ctx.moveTo(p, a.bottom); ctx.lineTo(p, a.bottom - 5);
    }
    for (const v of yTickValues) {
      const p = Math.round(scales.y.getPixelForValue(v)) + 0.5;
      ctx.moveTo(a.left, p); ctx.lineTo(a.left + 5, p);
      ctx.moveTo(a.right, p); ctx.lineTo(a.right - 5, p);
    }
    ctx.stroke();
    ctx.lineWidth = 1.3;
    ctx.strokeRect(a.left, a.top, a.right - a.left, a.bottom - a.top);
    ctx.restore();
  },
};

export default function App() {
  const ref = useRef<HTMLCanvasElement | null>(null);
  useEffect(() => {
    if (!ref.current) return;
    const font = { family: "'DejaVu Sans'", size: 16 };
    const chart = new Chart(ref.current, {
      type: "scatter",
      data: {
        datasets: series.map((s) => ({
          data: s.data,
          backgroundColor: s.color,
          borderColor: s.color,
          borderWidth: 0,
          pointRadius: 2.4,
        })),
      },
      options: {
        animation: false,
        responsive: false,
        layout: { padding: { top: 68, right: 91, left: 0, bottom: 0 } },
        plugins: { legend: { display: false }, tooltip: { enabled: false } },
        scales: {
          x: {
            type: "linear", min: -5.5, max: 14,
            grid: { display: false, drawTicks: false }, border: { display: false },
            afterBuildTicks: (s: any) => { s.ticks = xTickValues.map((value) => ({ value })); },
            afterFit: (s: any) => { s.height = 67; },
            ticks: { color: "#000", font, padding: 5, maxRotation: 0, callback: fmt },
          },
          y: {
            type: "linear", min: -3.2, max: 3.2,
            grid: { display: false, drawTicks: false }, border: { display: false },
            afterBuildTicks: (s: any) => { s.ticks = yTickValues.map((value) => ({ value })); },
            afterFit: (s: any) => { s.width = 114; },
            ticks: { color: "#000", font, padding: 6, callback: fmt },
          },
        },
      },
      plugins: [framePlugin],
    } as any);
    return () => chart.destroy();
  }, []);
  return (
    <canvas
      ref={ref}
      width={910}
      height={670}
      style={{ position: "absolute", left: 0, top: 0, width: 910, height: 670, background: "#fff" }}
    />
  );
}
